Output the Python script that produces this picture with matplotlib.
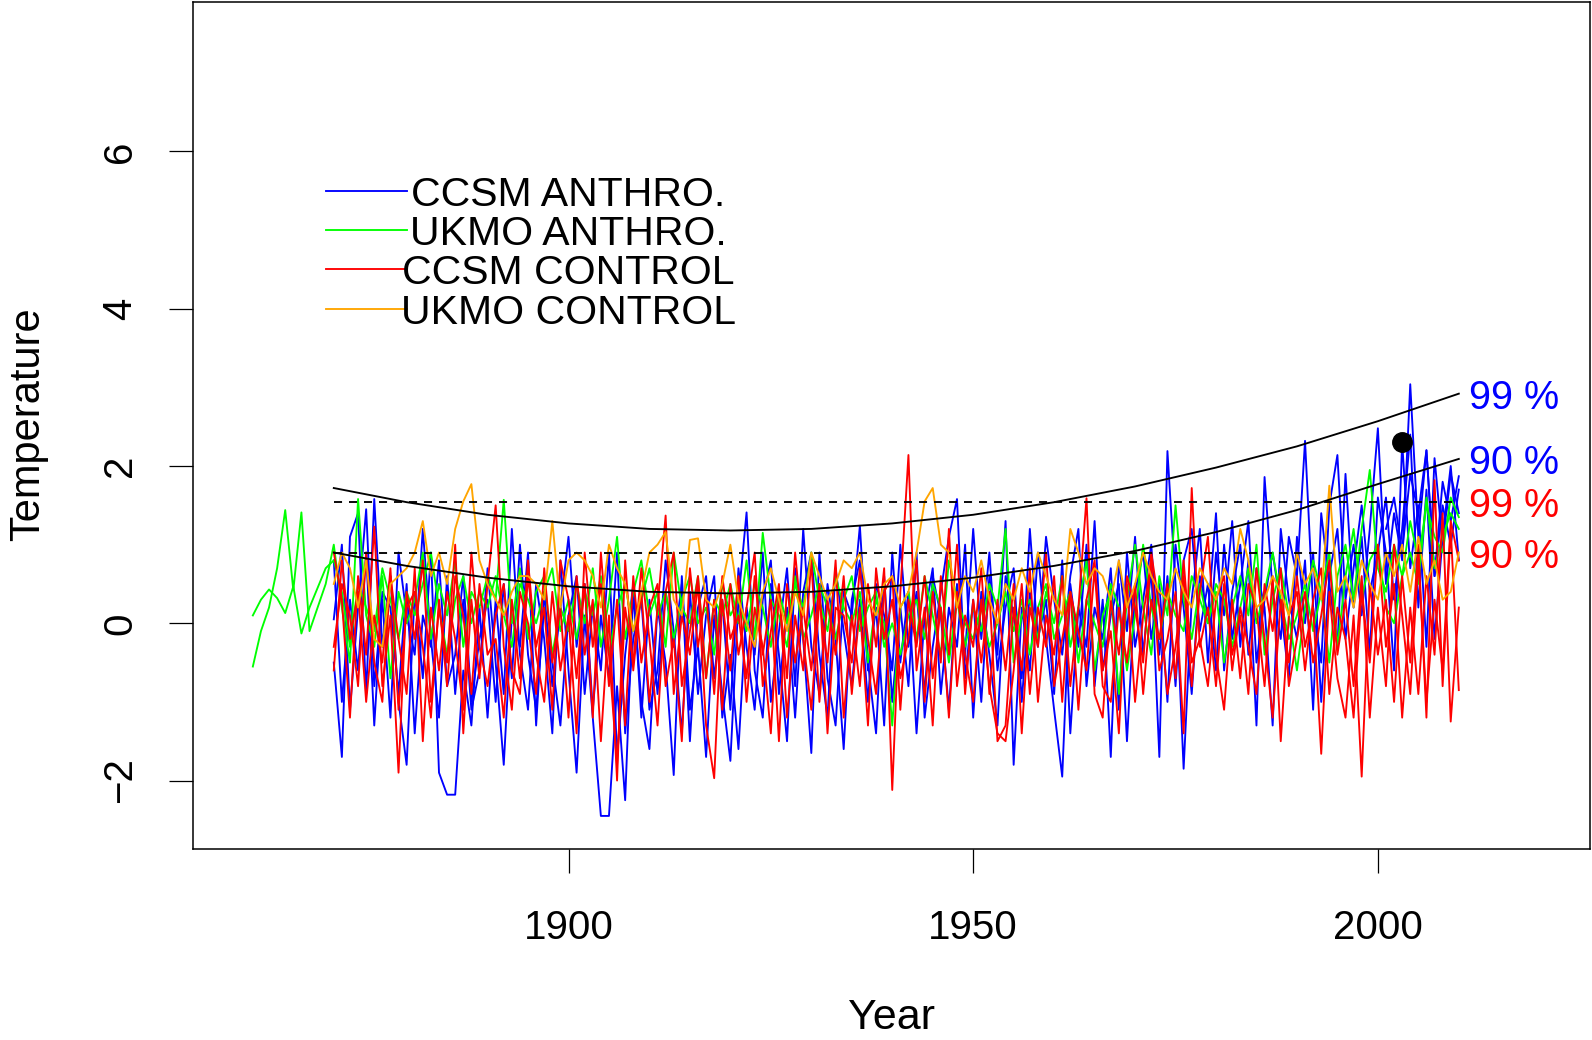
import matplotlib
matplotlib.use('Agg')
import matplotlib.pyplot as plt
import numpy as np

plt.rcParams['font.family'] = ['Liberation Sans', 'DejaVu Sans']

# years
years = list(range(1871, 2011))
years_ukmo = list(range(1861, 2011))
years_late = list(range(2001, 2011))

# CCSM ANTHRO. runs (blue)
ccsm_anthro_1 = [
    -0.5, -1.7, 1.1, 1.4, -0.9, 1.58, -0.3, 0.6, -1.0, -1.8,
    0.4, -0.7, 0.9, -1.9, -2.18, -2.18, -0.6, -1.3, 0.2, -1.2,
    0.3, -0.9, 1.2, -0.4, -1.1, 0.5, -0.2, -1.4, 0.8, -0.6,
    -1.9, 0.1, -1.2, -2.45, -2.45, -0.8, -2.25, 0.4, -1.0, -1.6,
    0.2, -0.5, -1.93, 0.6, -1.1, -0.3, -1.7, 0.1, -0.9, -1.75,
    0.3, 1.41, -0.6, -1.2, 0.5, -0.4, -1.5, 0.7, -0.2, -1.65,
    0.9, -0.7, -1.3, 0.4, 0.1, 1.24, -0.5, -1.4, 0.6, -1.0,
    0.2, -0.8, 0.9, -1.2, -0.3, 0.4, 1.1, 1.58, -0.7, 0.3,
    -1.0, 0.6, -0.4, 1.3, -1.8, 0.2, -0.6, 0.9, -0.2, -1.1,
    -1.95, 0.5, -0.3, 1.0, -0.8, 0.3, -1.7, 0.8, -0.1, 1.1,
    -0.4, 0.7, -1.7, 2.19, 0.5, -1.85, 0.3, 1.2, -0.5, 0.9,
    0.1, 1.3, -0.3, 0.8, -1.3, 1.86, 0.4, -0.2, 1.1, 0.6,
    2.32, 0.2, -0.5, 1.5, 2.14, 0.3, 1.0, 0.1, 1.2, 2.48,
    0.5, 1.4, 0.8, 3.04, 1.1, 2.2, 0.6, 1.8, 1.3, 1.87]
ccsm_anthro_2 = [
    0.05, 1.0, -1.1, 0.2, 1.45, -0.8, 0.3, -1.2, 0.9, 0.1,
    -0.4, 1.2, -0.2, -1.2, 0.6, -0.9, 0.3, -1.1, -0.6, 0.7,
    -0.5, -1.8, 0.1, -0.3, 0.9, -1.3, 0.4, -0.8, 0.2, 1.1,
    -0.3, 0.5, -1.1, 0.1, -0.7, 0.9, -1.4, -0.2, 0.3, -1.1,
    -0.6, 0.8, -0.1, -1.4, 0.4, -0.9, 0.1, 0.6, -1.2, -0.4,
    -1.6, 0.2, -0.4, 0.9, -1.0, -0.1, 0.7, -0.8, 1.2, -0.3,
    -0.9, 0.5, -0.2, -1.6, 0.3, 0.8, -0.6, 0.2, -1.3, 0.9,
    -0.5, 0.4, -1.4, 0.1, 0.7, -0.9, 0.2, -0.3, 1.0, -1.2,
    0.4, -0.4, -1.3, 0.6, 0.1, -0.7, 1.2, -0.2, 0.3, -0.9,
    0.8, -1.4, 0.2, -0.3, 1.3, -0.6, 0.1, 0.5, -1.5, 0.4,
    0.9, -0.2, 0.5, -1.0, 1.0, 0.2, -0.9, 0.6, 0.1, 1.4,
    -0.6, 0.4, 1.0, -0.4, 0.7, 0.2, -1.3, 1.2, 0.3, -0.2,
    0.8, -1.1, 1.4, 0.5, -0.3, 1.9, 0.2, 1.1, -0.4, 1.6,
    0.9, -0.6, 2.3, 0.7, 1.5, -0.3, 2.1, 1.0, 1.9, 1.4]
ccsm_anthro_3 = [
    0.8, -1.0, 0.3, -0.6, 0.9, -1.3, 0.4, 0.2, -0.9, 0.5,
    -1.4, 0.1, -0.3, 0.8, -0.8, -0.4, 0.6, -1.0, -0.2, 0.3,
    -1.0, 0.5, -0.7, 1.0, -0.4, -1.1, 0.2, -0.5, -1.3, 0.1,
    0.6, -0.9, 0.2, -0.6, 0.9, -1.7, -0.4, 0.5, -1.2, 0.3,
    -0.9, 0.4, -0.3, 0.5, -1.5, 0.2, 0.6, -0.7, 0.3, -1.1,
    0.7, -0.3, -1.1, 0.3, 0.8, -0.9, 0.2, -1.2, 0.4, 0.9,
    -0.4, -1.2, 0.7, -0.1, -0.8, 0.3, -1.0, 0.5, 0.1, -0.6,
    1.0, -0.3, 0.4, -0.9, 0.6, 0.1, -1.1, 0.5, -0.4, 1.2,
    -0.2, 0.9, -0.6, 0.2, 0.7, -1.0, 0.4, -0.3, 1.1, 0.3,
    -0.4, 0.6, 1.2, -0.8, 0.2, -0.2, 0.7, -1.1, 0.9, -0.3,
    0.3, 1.0, -0.4, 0.6, -0.8, 0.8, 1.2, -0.1, 0.5, -0.6,
    1.0, -0.2, 0.5, 1.3, -0.5, 0.3, 0.9, 0.2, -0.7, 1.1,
    0.0, 0.9, -1.0, 0.6, 1.2, -0.2, 0.7, 1.5, 0.4, 0.9,
    1.6, 0.3, 1.2, 2.4, 0.2, 1.7, -0.2, 1.1, 2.0, 0.8]
ccsm_anthro_late = [1.2, 1.6, 0.9, 1.9, 1.4, 2.2, 0.6, 1.5, 1.0, 1.7]

# UKMO ANTHRO. runs (green)
ukmo_anthro_1 = [
    -0.55, -0.1, 0.2, 0.7, 1.44, 0.42, 1.41, -0.1, 0.2, 0.5,
    1.0, 0.2, -0.5, 1.58, 0.1, -0.3, 0.6, -0.7, 0.4, 0.0,
    0.3, 0.9, -0.2, 0.5, 0.1, 0.8, -0.3, 0.4, 0.2, 0.6,
    0.3, 1.57, 0.0, 0.7, -0.2, 0.4, 0.6, -0.4, 0.2, -0.1,
    0.5, 0.0, 0.7, -0.3, 0.3, 1.1, -0.2, 0.4, 0.8, 0.1,
    0.4, -0.3, 0.9, 0.2, 0.0, 0.6, -0.7, 0.3, 0.1, 0.5,
    0.0, 0.8, -0.2, 1.15, 0.3, 0.1, -0.3, 0.5, 0.2, 0.9,
    0.3, -0.1, 0.6, 0.2, 0.0, 0.4, -0.5, 0.3, 0.0, -1.3,
    0.2, 0.4, -0.2, 0.6, 0.1, -0.4, 0.8, 0.3, -0.3, 0.2,
    -0.1, 0.5, 0.2, 1.2, -0.5, 0.1, 0.3, -0.2, 0.4, 0.0,
    0.6, -0.3, 0.2, 0.8, -0.6, 0.1, 0.4, -0.9, 0.3, 1.0,
    0.2, -0.4, 0.6, 0.1, 1.5, 0.3, -0.2, 0.5, 0.0, 0.4,
    -0.5, 0.2, 0.6, 0.1, 1.0, -0.4, 0.3, 0.7, 0.1, -0.6,
    0.2, 0.8, 0.4, -0.5, 0.6, 1.0, 0.3, 1.2, 1.95, 0.7,
    0.4, 1.0, 0.6, 1.3, 0.8, 1.5, 1.1, 0.9, 1.6, 1.35]
ukmo_anthro_2 = [
    0.1, 0.3, 0.43, 0.32, 0.13, 0.47, -0.13, 0.2, 0.45, 0.7,
    0.8, 0.4, -0.3, 0.5, 0.2, -0.1, 0.7, 0.3, -0.2, 0.4,
    0.1, 0.5, 0.9, 0.2, -0.4, 0.3, 0.6, 0.0, 0.4, 0.2,
    0.6, 0.1, -0.3, 0.5, 0.3, 0.0, 0.4, 0.7, -0.1, 0.3,
    -0.2, 0.4, 0.1, 0.6, -0.4, 0.2, 0.5, -0.1, 0.3, 0.7,
    0.1, 0.4, -0.2, 0.3, 0.6, 0.0, 0.2, -0.4, 0.5, 0.1,
    0.3, -0.1, 0.5, 0.2, -0.3, 0.4, 0.0, 0.6, -0.2, 0.1,
    0.5, 0.2, -0.2, 0.3, 0.6, -0.1, 0.2, 0.4, -0.3, 0.0,
    -0.4, 0.1, 0.3, -0.2, 0.5, 0.2, -0.5, 0.3, 0.0, -0.2,
    0.2, -0.3, 0.0, 0.4, -0.1, 0.3, -0.4, 0.2, 0.5, -0.2,
    0.1, 0.4, -0.5, 0.3, 0.0, -0.3, 0.5, 0.2, -0.6, 0.1,
    1.0, 0.2, -0.2, 0.4, 0.1, -0.1, 0.6, 0.3, 0.0, 0.5,
    0.3, -0.3, 0.2, 0.7, 0.0, 0.4, 0.9, 0.3, -0.2, 0.1,
    0.5, -0.1, 0.4, 0.9, -0.3, 0.6, 1.2, 0.3, 0.8, 1.0,
    0.2, 0.0, 0.6, 0.9, 0.5, 1.6, 0.7, 1.1, 1.4, 1.2]

# CCSM CONTROL runs (red)
ccsm_control_1 = [
    0.9, 0.3, -1.2, 0.6, -0.4, 1.23, -0.8, 0.1, -1.9, 0.4,
    -0.2, 0.8, -1.0, 0.2, -0.5, 1.0, -1.4, 0.3, -0.7, 0.5,
    1.5, -0.3, -1.1, 0.4, 0.0, -0.9, 0.7, -0.5, 0.2, -1.2,
    0.6, -0.4, 0.3, -1.5, 0.1, -2.0, 0.8, -0.6, 0.4, -1.0,
    0.2, 1.37, -0.9, 0.1, -0.4, 0.5, -1.3, -1.97, 0.3, -0.6,
    0.6, -1.0, 0.2, -0.3, -1.4, 0.4, -0.7, 0.9, -0.2, -1.1,
    0.3, -0.5, 0.8, -1.2, 0.1, -0.8, 0.5, -0.3, 0.7, -2.12,
    0.4, 2.14, -0.6, 0.2, -1.3, 0.6, -0.4, 1.0, -0.9, 0.3,
    -0.5, 0.4, -1.5, -1.3, 0.2, -0.6, 0.7, -1.0, 0.1, -0.4,
    0.6, -0.8, 0.2, 1.59, -0.9, -1.2, 0.3, -0.4, 0.5, -1.0,
    0.1, 0.8, -0.6, -0.2, 0.4, -1.4, 1.72, -0.3, 0.2, -0.8,
    0.5, -0.4, 0.1, -0.9, 0.7, -0.2, -1.2, 0.3, -0.5, 0.6,
    -0.3, 0.2, -1.66, 0.4, -0.7, -1.2, 0.1, -1.95, 0.5, -0.4,
    0.3, -1.0, 0.6, -0.5, 1.0, -1.2, 1.82, -0.8, 1.2, -0.85]
ccsm_control_2 = [
    -0.3, 0.5, 0.1, -0.8, 0.9, -0.5, -1.0, 0.6, -0.2, -0.9,
    0.7, -1.5, 0.2, -0.6, 0.4, -0.2, -1.1, 0.9, -0.3, -0.8,
    0.1, 0.5, -0.6, -0.9, 0.6, -0.3, 0.2, -1.1, 0.8, 0.3,
    -0.7, 0.5, -1.2, 0.9, -0.4, -1.8, 0.2, -0.5, 0.7, -0.2,
    -1.3, 0.4, 0.9, -0.8, -0.1, 0.6, -0.7, 0.3, -1.1, 0.5,
    -0.4, 0.2, 0.9, -0.8, -0.1, 0.5, -1.2, 0.1, -0.6, 0.8,
    -1.0, 0.3, -0.4, 0.6, -0.9, 0.2, -1.3, 0.7, -0.2, 0.3,
    -0.7, -0.2, 0.8, -1.0, 0.4, -0.5, 1.2, -0.8, 0.1, -0.3,
    0.7, -0.9, 0.3, -0.6, 0.5, -1.4, 0.2, -0.3, 0.9, -0.8,
    -0.2, 0.4, -1.1, 0.3, 0.8, -0.6, -0.1, -1.4, 0.6, 0.2,
    -0.5, 0.9, 0.2, -0.9, -0.3, 0.6, -0.8, 0.4, 1.1, -0.4,
    -1.1, 0.3, -0.7, 0.5, 0.2, -0.8, 0.6, -1.5, 0.1, 0.4,
    -0.6, 0.3, 0.7, -0.9, 0.2, -0.2, -1.2, 0.4, -0.5, 1.0,
    -0.3, 0.5, -1.2, 0.2, -0.9, 0.6, -0.4, 1.4, -1.25, 0.2]
ccsm_control_3 = [
    -0.6, 0.8, -0.2, 0.4, -1.0, 0.1, -0.5, 0.7, -1.1, 0.2,
    0.4, -0.3, -1.2, 0.3, -0.8, 0.6, 0.1, -0.9, 0.5, -0.4,
    -0.2, -1.2, 0.3, -0.7, 0.8, -0.4, -1.0, 0.4, -0.6, 0.1,
    -1.4, 0.9, -0.3, 0.5, -0.8, 0.3, -1.3, 0.6, -0.5, 0.2,
    0.5, -0.8, -0.2, -1.5, 0.7, -0.3, 0.4, -0.9, 0.6, -0.2,
    0.1, -0.7, 0.6, -0.4, 0.3, -1.5, 0.5, -0.5, 0.2, -0.6,
    0.5, -1.4, 0.2, 0.1, -0.5, 0.7, -0.2, -0.9, 0.4, 0.6,
    -1.1, 0.3, -0.3, 0.6, -0.7, 0.2, -1.2, 0.4, -0.4, -1.0,
    0.3, -0.8, -1.4, -1.5, -0.6, 0.5, -0.9, 0.2, -0.3, 0.6,
    -1.0, 0.4, -0.1, -0.6, 0.7, -0.8, -1.0, 0.2, -0.5, 0.5,
    -0.9, 0.3, -0.2, 0.5, -0.7, 0.8, -0.5, -0.2, -0.8, 0.3,
    0.6, -0.6, 0.2, -0.3, -0.9, 0.5, -0.1, 0.7, -0.8, -0.2,
    0.4, -0.5, 0.1, 0.8, -0.4, 0.3, -0.8, 0.6, -1.2, 0.2,
    -0.8, 1.0, 0.1, -0.9, 0.8, -1.0, 0.3, -0.6, 1.3, 0.8]

# UKMO CONTROL (orange)
ukmo_control = [
    0.5, 0.9, 0.7, 0.2, 0.8, -0.2, -0.3, 0.5, 0.6, 0.7,
    0.9, 1.3, 0.6, 0.9, 0.5, 1.2, 1.55, 1.77, 0.8, 0.5,
    0.3, 0.1, 0.4, 0.6, 0.6, 0.5, 0.3, 1.3, 0.2, 0.8,
    0.9, 0.8, 0.6, 0.2, 1.0, 0.7, 0.5, -0.1, 0.4, 0.9,
    1.0, 1.16, 0.3, 0.1, 1.06, 1.08, 0.3, 0.2, 0.5, 1.0,
    0.3, 0.0, -0.3, 0.4, 0.7, 0.3, -0.1, 0.4, 0.1, 0.9,
    0.6, 0.3, 0.5, 0.8, 0.7, 0.9, 0.3, 0.1, 0.5, 0.6,
    0.2, 0.4, 0.9, 1.55, 1.72, 1.0, 0.9, 0.2, 0.6, 0.4,
    0.8, 0.3, 0.0, 0.5, 0.3, 0.7, 0.4, 0.9, 0.6, 0.3,
    0.1, 1.2, 0.9, 0.5, 0.7, 0.6, 0.3, 0.8, 0.2, 0.5,
    0.9, 0.6, 0.4, 0.3, 0.7, 0.4, 0.2, 0.7, 0.5, 0.3,
    0.7, 0.5, 1.2, 0.8, 0.2, 0.3, 0.6, 0.4, 0.1, 0.9,
    0.5, 0.7, 0.3, 1.75, 0.4, 0.6, 0.2, 0.8, 0.5, 0.3,
    0.9, 0.6, 1.0, 0.4, 1.1, 0.5, 0.8, 0.3, 0.4, 0.9]

# significance curves (decadal), thresholds and observed point
curve_years = [1871, 1880, 1890, 1900, 1910, 1920, 1930, 1940, 1950,
               1960, 1970, 1980, 1990, 2000, 2010]
anthro_99 = [1.72, 1.54, 1.38, 1.27, 1.20, 1.18, 1.20, 1.27, 1.38,
             1.54, 1.74, 1.98, 2.25, 2.57, 2.92]
anthro_90 = [0.90, 0.73, 0.58, 0.47, 0.40, 0.38, 0.40, 0.47, 0.58,
             0.73, 0.92, 1.16, 1.44, 1.77, 2.09]
control_99 = 1.54
control_90 = 0.89
obs_year = 2003
obs_temp = 2.3

legend_labels = ['CCSM ANTHRO.', 'UKMO ANTHRO.', 'CCSM CONTROL', 'UKMO CONTROL']
legend_colors = ['#0000ff', '#00ff00', '#ff0000', '#ffa500']

lw = 1.35

fig = plt.figure(figsize=(15.92, 10.4), dpi=100)
ax = fig.add_axes([0.1212, 0.1837, 0.8775, 0.8143])

for s in [ccsm_anthro_1, ccsm_anthro_2, ccsm_anthro_3]:
    ax.plot(years, s, color='#0000ff', lw=lw)
ax.plot(years_late, ccsm_anthro_late, color='#0000ff', lw=lw)
for s in [ukmo_anthro_1, ukmo_anthro_2]:
    ax.plot(years_ukmo, s, color='#00ff00', lw=lw)
for s in [ccsm_control_1, ccsm_control_2, ccsm_control_3]:
    ax.plot(years, s, color='#ff0000', lw=lw)
ax.plot(years, ukmo_control, color='#ffa500', lw=lw)

ax.plot(curve_years, anthro_99, color='black', lw=lw)
ax.plot(curve_years, anthro_90, color='black', lw=lw)
ax.plot([years[0], years[-1]], [control_99, control_99], color='black', lw=lw,
        linestyle=(0, (4.3, 3.7)))
ax.plot([years[0], years[-1]], [control_90, control_90], color='black', lw=lw,
        linestyle=(0, (4.3, 3.7)))
ax.plot([obs_year], [obs_temp], 'o', color='black', markersize=14)

ax.text(2011.3, anthro_99[-1], '99 %', color='#0000ff', fontsize=28.5,
        ha='left', va='center_baseline')
ax.text(2011.3, anthro_90[-1], '90 %', color='#0000ff', fontsize=28.5,
        ha='left', va='center_baseline')
ax.text(2011.3, control_99, '99 %', color='#ff0000', fontsize=28.5,
        ha='left', va='center_baseline')
ax.text(2011.3, control_90, '90 %', color='#ff0000', fontsize=28.5,
        ha='left', va='center_baseline')

# legend drawn by hand, no box, labels centred like R's legend output
for i in range(len(legend_labels)):
    ly = 5.5 - 0.5 * i
    ax.plot([1870, 1880], [ly, ly], color=legend_colors[i], lw=lw)
    ax.text(1900, ly, legend_labels[i], fontsize=29.5, ha='center',
            va='center_baseline', color='black')

ax.set_xlim(1853.6, 2026.2)
ax.set_ylim(-2.87, 7.9)
ax.set_xticks([1900, 1950, 2000])
ax.set_yticks([-2, 0, 2, 4, 6])
ax.tick_params(axis='both', direction='out', length=17.5, width=0.9,
               labelsize=29)
ax.tick_params(axis='x', pad=26)
ax.tick_params(axis='y', pad=21)
for lab in ax.get_yticklabels():
    lab.set_rotation(90)
    lab.set_va('center')
for sp in ax.spines.values():
    sp.set_linewidth(1.1)

fig.text(0.5600, 0.0105, 'Year', fontsize=31, ha='center', va='baseline')
fig.text(0.0175, 0.592, 'Temperature', fontsize=30, ha='center', va='center',
         rotation=90)

fig.savefig('out.png', dpi=100)
